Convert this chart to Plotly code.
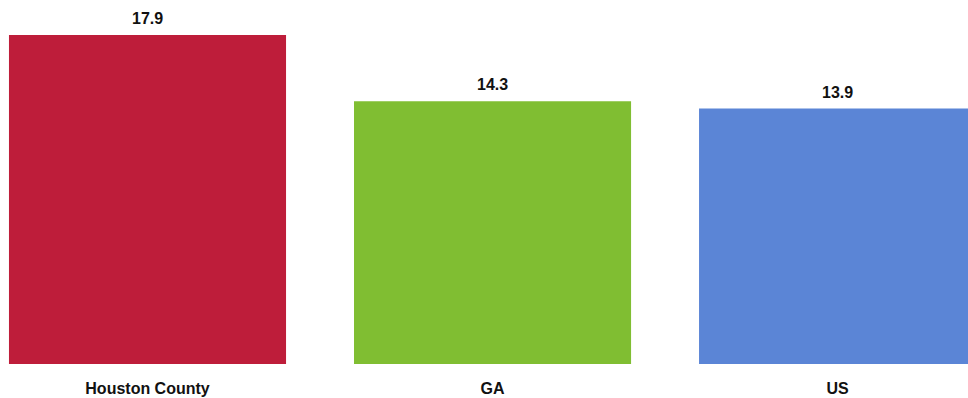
import plotly.graph_objects as go

# ---------- data ----------
regions = ["Houston County", "GA", "US"]
values = [17.9, 14.3, 13.9]
colors = ["#BE1D3A", "#80BE32", "#5B85D6"]

FONT = "Liberation Sans Narrow, Arial Narrow, Liberation Sans, Arial, sans-serif"

fig = go.Figure()
fig.add_trace(go.Bar(
    x=regions, y=values,
    marker=dict(color=colors, line=dict(width=0)),
    hoverinfo="skip",
))

# value labels above bars
for r, v in zip(regions, values):
    fig.add_annotation(
        x=r, y=v, text=f"<b>{v:.1f}</b>",
        showarrow=False, yanchor="bottom", yshift=6,
        font=dict(family=FONT, size=16, color="#111111"),
    )

fig.update_layout(
    width=968, height=398,
    margin=dict(l=0, r=0, t=0, b=34),
    paper_bgcolor="white", plot_bgcolor="white",
    bargap=0.197,
    showlegend=False,
    xaxis=dict(
        range=[-0.4275, 2.378],
        showline=False, showgrid=False, zeroline=False, ticks="",
        tickfont=dict(family=FONT, size=16, color="#111111"),
        tickvals=regions,
        ticktext=[f"<b>{r}</b>" for r in regions],
        ticklabelstandoff=13,
    ),
    yaxis=dict(
        range=[0, 364 / 18.38],
        visible=False,
    ),
)

# page body has a default 8px margin; drop it so the figure fills the window
fig.write_html("out.html", config={"displayModeBar": False},
               post_script="document.body.style.margin='0';")
